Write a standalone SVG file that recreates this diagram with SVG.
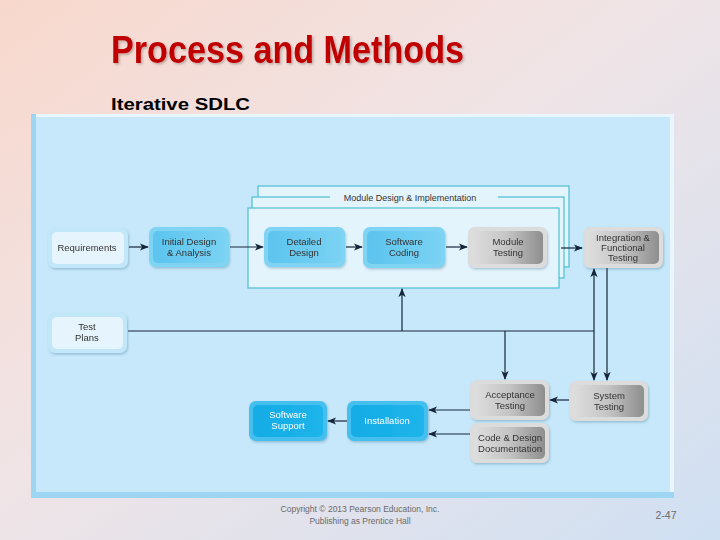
<svg xmlns="http://www.w3.org/2000/svg" width="720" height="540" viewBox="0 0 720 540">
<defs>
<linearGradient id="bg" x1="0" y1="0" x2="1" y2="1">
<stop offset="0" stop-color="#f8d8cc"/>
<stop offset="0.45" stop-color="#f0e4e6"/>
<stop offset="1" stop-color="#cfe0f3"/>
</linearGradient>
<linearGradient id="gGray" x1="0" y1="0" x2="1" y2="0">
<stop offset="0" stop-color="#dedede"/>
<stop offset="0.5" stop-color="#c4c4c4"/>
<stop offset="1" stop-color="#8e8e8e"/>
</linearGradient>
<linearGradient id="gBlue" x1="0" y1="0" x2="1" y2="0">
<stop offset="0" stop-color="#5cc4ee"/>
<stop offset="1" stop-color="#7ad2f3"/>
</linearGradient>
<linearGradient id="gDeep" x1="0" y1="0" x2="1" y2="0">
<stop offset="0" stop-color="#12ace6"/>
<stop offset="1" stop-color="#1fb4ea"/>
</linearGradient>
<filter id="sh" x="-10%" y="-10%" width="130%" height="140%">
<feDropShadow dx="1" dy="1.5" stdDeviation="1.2" flood-color="#3a6f8a" flood-opacity="0.35"/>
</filter>
<filter id="tsh" x="-5%" y="-5%" width="110%" height="120%">
<feDropShadow dx="1.5" dy="1.5" stdDeviation="0.8" flood-color="#000" flood-opacity="0.25"/>
</filter>
<marker id="ah" viewBox="0 0 10 8" refX="9" refY="4" markerWidth="9" markerHeight="8" markerUnits="userSpaceOnUse" orient="auto-start-reverse">
<path d="M0,0 L10,4 L0,8 L2.5,4 z" fill="#16263a"/>
</marker>
<style>
.t{font-family:"Liberation Sans",Arial,sans-serif;font-size:9.5px;fill:#333;text-anchor:middle}
.tw{font-family:"Liberation Sans",Arial,sans-serif;font-size:9.5px;fill:#ffffff;text-anchor:middle}
.oW{fill:#c2e7f8}
.iW{fill:#e6f5fd}
.oB{fill:#7fd3f3}
.iB{fill:url(#gBlue)}
.oD{fill:#45bfee}
.iD{fill:url(#gDeep)}
.oG{fill:#dcdcdc}
.iG{fill:url(#gGray)}
.c{fill:none;stroke:#16263a;stroke-width:1.2}
.stack{fill:#e3f4fd;stroke:#4cbfd2;stroke-width:1.2}
</style>
</defs>
<rect x="0" y="0" width="720" height="540" fill="url(#bg)"/>
<text x="111" y="63" font-family="'Liberation Sans',Arial,sans-serif" font-weight="bold" font-size="38" fill="#c00000" textLength="353" lengthAdjust="spacingAndGlyphs" filter="url(#tsh)">Process and Methods</text>
<text x="111" y="110" font-family="'Liberation Sans',Arial,sans-serif" font-weight="bold" font-size="16" fill="#000" textLength="139" lengthAdjust="spacingAndGlyphs">Iterative SDLC</text>
<g id="panel">
<rect x="31" y="114" width="643" height="384" fill="#9dd6f2"/>
<rect x="36" y="114" width="638" height="378" fill="#e9f6fd"/>
<rect x="36" y="117" width="634" height="375" fill="#c6e8fa"/>
</g>
<g id="module-stack">
<rect class="stack" x="258" y="186" width="311" height="81"/>
<rect class="stack" x="252" y="197" width="312" height="81"/>
<rect x="330" y="191" width="168" height="12" fill="#e3f4fd"/>
<rect class="stack" x="248" y="208" width="311" height="80"/>
<text x="410" y="201" font-family="'Liberation Sans',Arial,sans-serif" font-size="9" fill="#333" text-anchor="middle">Module Design &amp; Implementation</text>
</g>
<g id="connectors">
<line class="c" x1="129" y1="247" x2="148" y2="247" marker-end="url(#ah)"/>
<line class="c" x1="230" y1="247" x2="263" y2="247" marker-end="url(#ah)"/>
<line class="c" x1="346" y1="247" x2="362" y2="247" marker-end="url(#ah)"/>
<line class="c" x1="446" y1="247" x2="467" y2="247" marker-end="url(#ah)"/>
<line class="c" x1="561" y1="248" x2="582" y2="248" marker-end="url(#ah)"/>
<line class="c" x1="128" y1="331" x2="594" y2="331"/>
<line class="c" x1="402" y1="331" x2="402" y2="289" marker-end="url(#ah)"/>
<line class="c" x1="505" y1="331" x2="505" y2="379" marker-end="url(#ah)"/>
<line class="c" x1="594" y1="269" x2="594" y2="380" marker-start="url(#ah)" marker-end="url(#ah)"/>
<line class="c" x1="607" y1="268" x2="607" y2="380" marker-end="url(#ah)"/>
<line class="c" x1="569" y1="400" x2="550" y2="400" marker-end="url(#ah)"/>
<line class="c" x1="470" y1="410" x2="429" y2="410" marker-end="url(#ah)"/>
<line class="c" x1="470" y1="434" x2="429" y2="434" marker-end="url(#ah)"/>
<line class="c" x1="347" y1="421" x2="328" y2="421" marker-end="url(#ah)"/>
</g>
<g id="requirements" filter="url(#sh)">
<rect class="oW" x="48" y="228" width="80" height="40" rx="7"/>
<rect class="iW" x="52" y="232" width="72" height="32" rx="5"/>
<text class="t" x="87" y="251">Requirements</text>
</g>
<g id="initial-design" filter="url(#sh)">
<rect class="oB" x="149" y="227" width="80" height="40" rx="7"/>
<rect class="iB" x="153" y="231" width="72" height="32" rx="5"/>
<text class="t" x="189" y="245">Initial Design</text>
<text class="t" x="189" y="256">&amp; Analysis</text>
</g>
<g id="detailed-design" filter="url(#sh)">
<rect class="oB" x="264" y="227" width="81" height="40" rx="7"/>
<rect class="iB" x="268" y="231" width="73" height="32" rx="5"/>
<text class="t" x="304" y="245">Detailed</text>
<text class="t" x="304" y="256">Design</text>
</g>
<g id="software-coding" filter="url(#sh)">
<rect class="oB" x="363" y="227" width="82" height="41" rx="7"/>
<rect class="iB" x="367" y="231" width="74" height="33" rx="5"/>
<text class="t" x="404" y="245">Software</text>
<text class="t" x="404" y="256">Coding</text>
</g>
<g id="module-testing" filter="url(#sh)">
<rect class="oG" x="468" y="227" width="79" height="41" rx="7"/>
<rect class="iG" x="472" y="231" width="71" height="33" rx="5"/>
<text class="t" x="508" y="245">Module</text>
<text class="t" x="508" y="256">Testing</text>
</g>
<g id="integration-testing" filter="url(#sh)">
<rect class="oG" x="583" y="227" width="80" height="41" rx="7"/>
<rect class="iG" x="587" y="231" width="72" height="33" rx="5"/>
<text class="t" x="623" y="241">Integration &amp;</text>
<text class="t" x="623" y="251">Functional</text>
<text class="t" x="623" y="261">Testing</text>
</g>
<g id="test-plans" filter="url(#sh)">
<rect class="oW" x="48" y="313" width="79" height="40" rx="7"/>
<rect class="iW" x="52" y="317" width="71" height="32" rx="5"/>
<text class="t" x="87" y="330">Test</text>
<text class="t" x="87" y="341">Plans</text>
</g>
<g id="software-support" filter="url(#sh)">
<rect class="oD" x="249" y="401" width="78" height="40" rx="7"/>
<rect class="iD" x="253" y="405" width="70" height="32" rx="5"/>
<text class="tw" x="288" y="418">Software</text>
<text class="tw" x="288" y="429">Support</text>
</g>
<g id="installation" filter="url(#sh)">
<rect class="oD" x="347" y="401" width="81" height="40" rx="7"/>
<rect class="iD" x="351" y="405" width="73" height="32" rx="5"/>
<text class="tw" x="387" y="424">Installation</text>
</g>
<g id="acceptance-testing" filter="url(#sh)">
<rect class="oG" x="470" y="380" width="79" height="40" rx="7"/>
<rect class="iG" x="474" y="384" width="71" height="32" rx="5"/>
<text class="t" x="510" y="398">Acceptance</text>
<text class="t" x="510" y="409">Testing</text>
</g>
<g id="code-design-documentation" filter="url(#sh)">
<rect class="oG" x="470" y="423" width="79" height="40" rx="7"/>
<rect class="iG" x="474" y="427" width="71" height="32" rx="5"/>
<text class="t" x="510" y="441">Code &amp; Design</text>
<text class="t" x="510" y="452">Documentation</text>
</g>
<g id="system-testing" filter="url(#sh)">
<rect class="oG" x="569" y="381" width="79" height="40" rx="7"/>
<rect class="iG" x="573" y="385" width="71" height="32" rx="5"/>
<text class="t" x="609" y="399">System</text>
<text class="t" x="609" y="410">Testing</text>
</g>
<text x="360" y="512" font-family="'Liberation Sans',Arial,sans-serif" font-size="8.5" fill="#6a6a6a" text-anchor="middle">Copyright © 2013 Pearson Education, Inc.</text>
<text x="360" y="524" font-family="'Liberation Sans',Arial,sans-serif" font-size="8.5" fill="#6a6a6a" text-anchor="middle">Publishing as Prentice Hall</text>
<text x="666" y="519" font-family="'Liberation Sans',Arial,sans-serif" font-size="10.5" fill="#6a6a6a" text-anchor="middle">2-47</text>
</svg>
